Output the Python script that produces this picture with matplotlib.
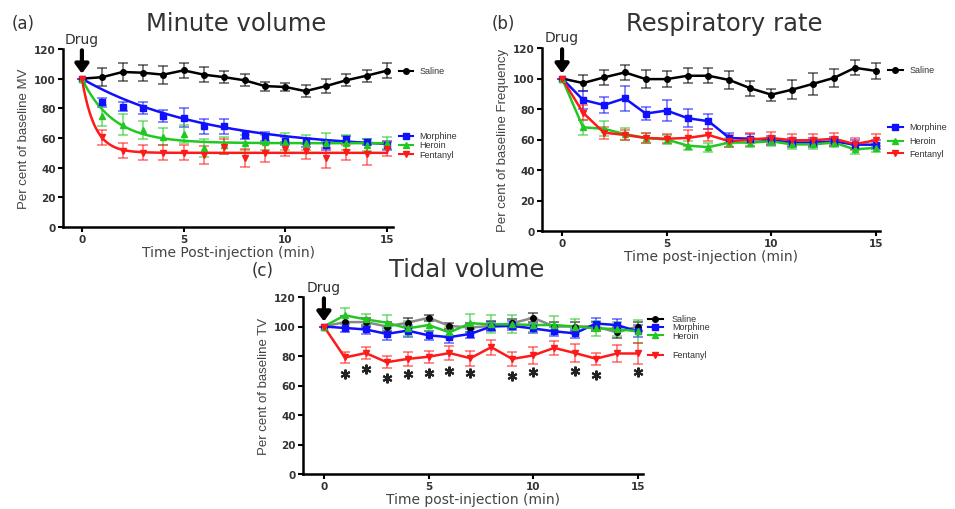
import numpy as np
import matplotlib
matplotlib.use("Agg")
import matplotlib.pyplot as plt

# time points (min)
t = np.arange(16)

# (a) minute volume, % baseline
mv_saline = [100, 101, 104.5, 104, 102.7, 105.6, 102.7, 101, 98.9, 95, 94.4, 91.6, 95, 98.9, 102, 105.4]
mv_saline_err = [0, 6, 6, 5.5, 6, 5, 5, 4, 4, 3, 3, 4, 4.5, 4, 4, 5]
mv_morphine = [100, 84, 81, 80, 75, 73.6, 68, 68, 62, 61, 58, 57, 55, 59.4, 57.6, 55]
mv_morphine_err = [0, 3, 3, 4, 4, 6.5, 5, 5, 3, 3, 3, 3, 3, 2, 2, 3]
mv_heroin = [100, 75, 69, 65.5, 61, 62.8, 53, 55, 56.7, 57, 57.6, 56.7, 56.7, 56.7, 55, 56.7]
mv_heroin_err = [0, 7, 7, 6, 6, 6, 6, 6, 5, 5, 6, 5, 7, 5, 4, 4]
mv_fentanyl = [100, 60.5, 51.5, 50, 50, 50, 48.8, 54, 46.5, 50, 52.6, 51, 46.5, 50.3, 49, 52.6]
mv_fentanyl_err = [0, 5, 5, 5, 5, 5, 6, 5, 6, 6, 5, 5, 7, 5, 7, 5]
# one-phase decay fits shown in (a): (plateau, rate per min)
mv_fit = {"Morphine": (52, 0.165), "Heroin": (56.5, 0.65), "Fentanyl": (50, 1.6)}

# (b) respiratory rate, % baseline
rr_saline = [100, 97, 100.7, 104, 99.6, 99.6, 101.8, 101.8, 99, 93.6, 89.4, 92.7, 96.5, 100.4, 107, 105]
rr_saline_err = [0, 5, 5, 5, 6, 5, 5, 5, 6, 5, 4, 6, 7, 6, 5, 5]
rr_morphine = [100, 86, 82.6, 87, 77, 79, 74, 72, 61, 60.5, 59.6, 58, 58, 58.8, 56.6, 56.6]
rr_morphine_err = [0, 6, 5, 8, 4, 7, 6, 5, 3, 3, 3, 3, 3, 3, 3, 3]
rr_heroin = [100, 68, 67, 63.6, 61, 60, 56, 55, 58, 58, 58.8, 56.8, 56.8, 58, 53.5, 54.6]
rr_heroin_err = [0, 5, 5, 4, 3, 3, 3, 3, 3, 3, 3, 3, 3, 3, 3, 3]
rr_fentanyl = [100, 77.6, 64.5, 63, 61, 60.5, 61, 63, 58.8, 60, 61, 59.5, 59.5, 60.5, 57, 59.5]
rr_fentanyl_err = [0, 5, 4, 3, 3, 3, 5, 4, 4, 4, 4, 4, 4, 4, 4, 4]

# (c) tidal volume, % baseline
tv_saline = [100, 103, 103, 100, 102.6, 105.9, 100.4, 99.3, 100.4, 102.2, 105.9, 100, 100, 100, 96, 100]
tv_saline_err = [0, 4, 3, 3, 3, 2, 2, 3, 3, 3, 3, 3, 3, 3, 4, 3]
tv_morphine = [100, 99, 98, 95, 97.2, 94, 92.8, 95, 100, 100.4, 98.7, 96.7, 95.4, 102, 101, 96.7]
tv_morphine_err = [0, 3, 3, 4, 4, 3, 4, 3, 3, 3, 3, 3, 3, 4, 4, 4]
tv_heroin = [100, 107.6, 104.8, 102.6, 98.7, 101, 96, 102.2, 101.5, 101.5, 101, 101, 100, 98.7, 98.3, 96.7]
tv_heroin_err = [0, 5, 4, 5, 5, 4, 4, 6, 6, 6, 5, 6, 5, 5, 5, 8]
tv_fentanyl = [100, 79, 82, 75.8, 78, 79.5, 82, 78.5, 86, 78, 80.4, 85.5, 82, 78.2, 81.7, 81.7]
tv_fentanyl_err = [0, 4, 4, 4, 5, 4, 5, 5, 5, 5, 6, 5, 6, 4, 6, 7]
star_t = [1, 2, 3, 4, 5, 6, 7, 9, 10, 12, 13, 15]
star_y = [67.6, 71, 64.8, 67.6, 68.7, 70, 68.7, 66.5, 69, 70, 67, 69]

groups = ["Saline", "Morphine", "Heroin", "Fentanyl"]
colors = {"Saline": "black", "Morphine": "#1010ff", "Heroin": "#22c822", "Fentanyl": "#ff1a1a"}
markers = {"Saline": "o", "Morphine": "s", "Heroin": "^", "Fentanyl": "v"}

W, H = 955, 510
fig = plt.figure(figsize=(W / 100, H / 100), dpi=100)


def px_axes(left, top, right, bottom):
    return fig.add_axes([left / W, 1 - bottom / H, (right - left) / W, (bottom - top) / H])


def style_axes(ax, xlo, xhi, ylabel, xlabel):
    ax.set_xlim(xlo, xhi)
    ax.set_ylim(0, 120)
    ax.set_xticks([0, 5, 10, 15])
    ax.set_yticks(range(0, 121, 20))
    for s in ["top", "right"]:
        ax.spines[s].set_visible(False)
    for s in ["left", "bottom"]:
        ax.spines[s].set_linewidth(1.8)
    ax.tick_params(width=1.5, length=3.5, labelsize=7.5, pad=1.5)
    for lab in ax.get_xticklabels() + ax.get_yticklabels():
        lab.set_fontweight("bold")
        lab.set_color("#333333")
    ax.set_ylabel(ylabel, fontsize=9.5, color="#444444", labelpad=3,
                  family=["Liberation Sans Narrow", "Liberation Sans"])
    ax.set_xlabel(xlabel, fontsize=10, color="#444444", labelpad=0.5)
    ax.annotate("", xy=(0, 101.5), xytext=(0, 121),
                arrowprops=dict(arrowstyle="-|>,head_width=0.4,head_length=0.55",
                                lw=3, color="black"), annotation_clip=False)
    ax.text(0, 127, "Drug", ha="center", va="center", fontsize=10, color="#333333",
            clip_on=False)


def draw_series(ax, name, y, err, connect=True, line_color=None, ms=4):
    c = colors[name]
    ax.errorbar(t, y, yerr=err, fmt="none", ecolor=c, alpha=0.55, elinewidth=1.3,
                capsize=3.5, capthick=1.3, zorder=2)
    if connect:
        ax.plot(t, y, color=line_color or c, lw=1.8, zorder=3)
    ax.plot(t, y, ls="none", marker=markers[name], color=c, ms=ms, zorder=4)


def draw_legend(ax, entries, x0, x1, xt):
    for name, yy in entries:
        c = colors[name]
        ax.plot([x0, x1], [yy, yy], color=c, lw=1.5, clip_on=False)
        ax.plot([(x0 + x1) / 2], [yy], marker=markers[name], color=c, ms=4, clip_on=False)
        ax.text(xt, yy, name, fontsize=6.5, va="center", ha="left", color="#333333",
                family="Liberation Sans", clip_on=False)


# ---- (a) Minute volume
ax1 = px_axes(63, 50, 393, 228)
style_axes(ax1, -0.93, 15.3, "Per cent of baseline MV", "Time Post-injection (min)")
draw_series(ax1, "Saline", mv_saline, mv_saline_err)
tt = np.linspace(0, 15, 200)
for name, y, err in [("Morphine", mv_morphine, mv_morphine_err),
                     ("Heroin", mv_heroin, mv_heroin_err),
                     ("Fentanyl", mv_fentanyl, mv_fentanyl_err)]:
    draw_series(ax1, name, y, err, connect=False)
    plateau, k = mv_fit[name]
    ax1.plot(tt, plateau + (100 - plateau) * np.exp(-k * tt), color=colors[name], lw=1.8, zorder=3)
draw_legend(ax1, [("Saline", 105.2), ("Morphine", 61.5), ("Heroin", 55.3), ("Fentanyl", 49.2)],
            15.6, 16.3, 16.6)
fig.text(12 / W, 1 - 24 / H, "(a)", fontsize=12, va="center", color="#333333")
fig.text(236 / W, 1 - 24 / H, "Minute volume", fontsize=17.5, ha="center", va="center",
         color="#333333")

# ---- (b) Respiratory rate
ax2 = px_axes(542, 49, 880, 232)
style_axes(ax2, -0.96, 15.2, "Per cent of baseline Frequency", "Time post-injection (min)")
for name, y, err in [("Saline", rr_saline, rr_saline_err),
                     ("Morphine", rr_morphine, rr_morphine_err),
                     ("Heroin", rr_heroin, rr_heroin_err),
                     ("Fentanyl", rr_fentanyl, rr_fentanyl_err)]:
    draw_series(ax2, name, y, err)
draw_legend(ax2, [("Saline", 105.8), ("Morphine", 68.4), ("Heroin", 59.2), ("Fentanyl", 51.1)],
            15.58, 16.3, 16.6)
fig.text(492 / W, 1 - 24 / H, "(b)", fontsize=12, va="center", color="#333333")
fig.text(724 / W, 1 - 24 / H, "Respiratory rate", fontsize=17.5, ha="center", va="center",
         color="#333333")

# ---- (c) Tidal volume
ax3 = px_axes(303, 298, 643, 475)
style_axes(ax3, -1.0, 15.25, "Per cent of baseline TV", "Time post-injection (min)")
draw_series(ax3, "Saline", tv_saline, tv_saline_err, line_color="#888888")
for name, y, err in [("Morphine", tv_morphine, tv_morphine_err),
                     ("Heroin", tv_heroin, tv_heroin_err),
                     ("Fentanyl", tv_fentanyl, tv_fentanyl_err)]:
    draw_series(ax3, name, y, err)
ax3.plot(star_t, star_y, ls="none", marker=(6, 2, 0), ms=7, mew=1.5, color="#222222")
draw_legend(ax3, [("Saline", 105.2), ("Morphine", 99.8), ("Heroin", 94.1), ("Fentanyl", 81)],
            15.48, 16.2, 16.63)
fig.text(252 / W, 1 - 271 / H, "(c)", fontsize=12, va="center", color="#333333")
fig.text(467 / W, 1 - 270 / H, "Tidal volume", fontsize=17.5, ha="center", va="center",
         color="#333333")

fig.savefig("out.png", dpi=100)
